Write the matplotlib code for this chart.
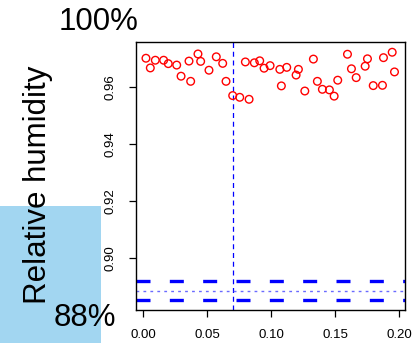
import matplotlib
matplotlib.use('Agg')
import matplotlib.pyplot as plt
from matplotlib.patches import Rectangle

plt.rcParams['font.family'] = ['Liberation Sans', 'DejaVu Sans']

# 散点数据
x_vals = [0.0021, 0.0055, 0.0094, 0.0159, 0.0195, 0.0261, 0.0295, 0.0357, 0.0370, 0.0427,
          0.0448, 0.0513, 0.0570, 0.0620, 0.0646, 0.0698, 0.0753, 0.0797, 0.0826, 0.0867,
          0.0909, 0.0943, 0.0990, 0.1066, 0.1078, 0.1120, 0.1193, 0.1211, 0.1261, 0.1328,
          0.1359, 0.1398, 0.1453, 0.1490, 0.1518, 0.1594, 0.1625, 0.1662, 0.1732, 0.1750,
          0.1795, 0.1867, 0.1875, 0.1943, 0.1961]
y_vals = [0.9702, 0.9668, 0.9695, 0.9695, 0.9683, 0.9678, 0.9639, 0.9692, 0.9621, 0.9717,
          0.9691, 0.9660, 0.9707, 0.9684, 0.9621, 0.9571, 0.9565, 0.9689, 0.9558, 0.9686,
          0.9693, 0.9667, 0.9676, 0.9663, 0.9605, 0.9670, 0.9643, 0.9663, 0.9587, 0.9699,
          0.9621, 0.9593, 0.9591, 0.9569, 0.9625, 0.9716, 0.9665, 0.9634, 0.9674, 0.9700,
          0.9606, 0.9607, 0.9704, 0.9723, 0.9654]

v_line = 0.0703          # 竖线位置
band_upper = 0.892       # 粗虚线
band_lower = 0.8853
band_mid = 0.8885        # 点线

x_ticks = [0.00, 0.05, 0.10, 0.15, 0.20]
y_ticks = [0.90, 0.92, 0.94, 0.96]

fig = plt.figure(figsize=(4.12, 3.43), dpi=100)

# 左下角浅蓝色方块
fig.patches.append(Rectangle((0, 0), 0.245, 0.399, transform=fig.transFigure,
                             facecolor='#a2d6f1', edgecolor='none', zorder=0))

ax = fig.add_axes([0.330, 0.0962, 0.653, 0.7814])
ax.scatter(x_vals, y_vals, s=30, facecolors='none', edgecolors='red', linewidths=1.0, zorder=3)
ax.axvline(v_line, color='blue', lw=0.9, linestyle=(0, (4, 3)))
ax.axhline(band_upper, color='blue', lw=2.4, dashes=(4.2, 5.8))
ax.axhline(band_lower, color='blue', lw=2.4, dashes=(4.2, 5.8))
ax.axhline(band_mid, color='#6a6aff', lw=1.0, linestyle=(0, (2, 3)))

ax.set_xlim(-0.0057, 0.2043)
ax.set_ylim(0.8819, 0.9759)
ax.set_xticks(x_ticks)
ax.set_xticklabels(['%.2f' % t for t in x_ticks])
ax.set_yticks(y_ticks)
ax.set_yticklabels(['%.2f' % t for t in y_ticks], rotation=90, va='center')
ax.tick_params(labelsize=9.5, length=5, width=0.9, pad=9)
for s in ax.spines.values():
    s.set_linewidth(1.0)

fig.text(0.093, 0.46, 'Relative humidity', rotation=90, fontsize=22.5, ha='center', va='center')
fig.text(0.240, 0.936, '100%', fontsize=22.5, ha='center', va='center')
fig.text(0.206, 0.073, '88%', fontsize=22.5, ha='center', va='center')

fig.savefig('out.png', dpi=100)
